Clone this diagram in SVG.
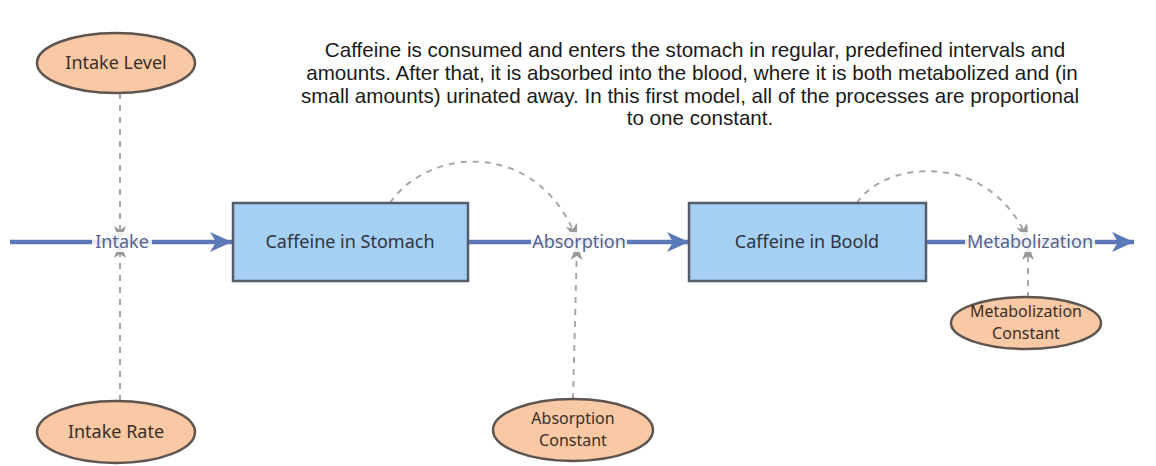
<svg xmlns="http://www.w3.org/2000/svg" width="1156" height="466" viewBox="0 0 1156 466">
<style>
.title{font-family:"Liberation Sans",Arial,sans-serif;font-size:20.6px;fill:#1a1a1a;text-anchor:middle}
.stock{fill:#a5cff3;stroke:#555c6a;stroke-width:2.5}
.aux{fill:#f8c9a4;stroke:#5e5550;stroke-width:2.5}
.nt{font-family:"Noto Sans",sans-serif;font-size:18px;fill:#2e3340;text-anchor:middle}
.at{font-family:"Noto Sans",sans-serif;font-size:18px;fill:#3b2e28;text-anchor:middle}
.at2{font-family:"Noto Sans",sans-serif;font-size:16px;fill:#3b2e28;text-anchor:middle}
.flow{stroke:#5b78b8;stroke-width:4.5;fill:none}
.link{stroke:#a8a8a8;stroke-width:2;stroke-dasharray:6 6;fill:none}
.fl{font-family:"Noto Sans",sans-serif;font-size:18px;fill:#56628e;text-anchor:middle}
.lb{fill:#ffffff}
</style>
<defs>
<marker id="fa" markerUnits="userSpaceOnUse" markerWidth="24" markerHeight="20" refX="22" refY="10" orient="auto">
<path d="M0,0 L22,10 L0,20 L6,10 Z" fill="#5b78b8"/>
</marker>
<marker id="la" markerUnits="userSpaceOnUse" markerWidth="18" markerHeight="12" refX="16" refY="6" orient="auto">
<path d="M0,0 L16,6 L0,12 L4,6 Z" fill="#9a9a9a"/>
</marker>
</defs>
<rect width="1156" height="466" fill="#ffffff"/>
<g id="title">
<text class="title" x="695" y="57">Caffeine is consumed and enters the stomach in regular, predefined intervals and</text>
<text class="title" x="692" y="80">amounts. After that, it is absorbed into the blood, where it is both metabolized and (in</text>
<text class="title" x="690" y="103">small amounts) urinated away. In this first model, all of the processes are proportional</text>
<text class="title" x="700" y="125">to one constant.</text>
</g>
<g id="connectors">
<line class="flow" x1="10" y1="242" x2="232" y2="242" marker-end="url(#fa)"/>
<line class="flow" x1="468" y1="242" x2="689" y2="242" marker-end="url(#fa)"/>
<line class="flow" x1="926" y1="242" x2="1134" y2="242" marker-end="url(#fa)"/>
<path class="link" d="M120,93 L120,242" marker-end="url(#la)"/>
<path class="link" d="M120,401 L120,242" marker-end="url(#la)"/>
<path class="link" d="M390,203 C430,145 540,140 577,240" marker-end="url(#la)"/>
<path class="link" d="M573,399 L577,244" marker-end="url(#la)"/>
<path class="link" d="M857,203 C885,160 990,150 1028,240" marker-end="url(#la)"/>
<path class="link" d="M1028,298 L1028,244" marker-end="url(#la)"/>
<g id="flow-intake">
<rect class="lb" x="92" y="232" width="60" height="20" fill-opacity="0.85"/>
<text class="fl" x="122" y="248">Intake</text>
</g>
<g id="flow-absorption">
<rect class="lb" x="531" y="232" width="96" height="20" fill-opacity="0.85"/>
<text class="fl" x="579" y="248">Absorption</text>
</g>
<g id="flow-metabolization">
<rect class="lb" x="965" y="232" width="130" height="20" fill-opacity="0.85"/>
<text class="fl" x="1030" y="248">Metabolization</text>
</g>
</g>
<g id="stomach">
<rect class="stock" x="233" y="203" width="235" height="78"/>
<text class="nt" x="350" y="248">Caffeine in Stomach</text>
</g>
<g id="blood">
<rect class="stock" x="689" y="203" width="237" height="78"/>
<text class="nt" x="807" y="248">Caffeine in Boold</text>
</g>
<g id="intake-level">
<ellipse class="aux" cx="116" cy="63" rx="79" ry="30"/>
<text class="at" x="116" y="69">Intake Level</text>
</g>
<g id="intake-rate">
<ellipse class="aux" cx="116" cy="432" rx="79" ry="31"/>
<text class="at" x="116" y="438">Intake Rate</text>
</g>
<g id="absorption-constant">
<ellipse class="aux" cx="573" cy="430" rx="80" ry="31"/>
<text class="at2" x="573" y="424">Absorption<tspan x="573" dy="22">Constant</tspan></text>
</g>
<g id="metabolization-constant">
<ellipse class="aux" cx="1026" cy="323" rx="75" ry="26"/>
<text class="at2" x="1026" y="317">Metabolization<tspan x="1026" dy="22">Constant</tspan></text>
</g>
</svg>
